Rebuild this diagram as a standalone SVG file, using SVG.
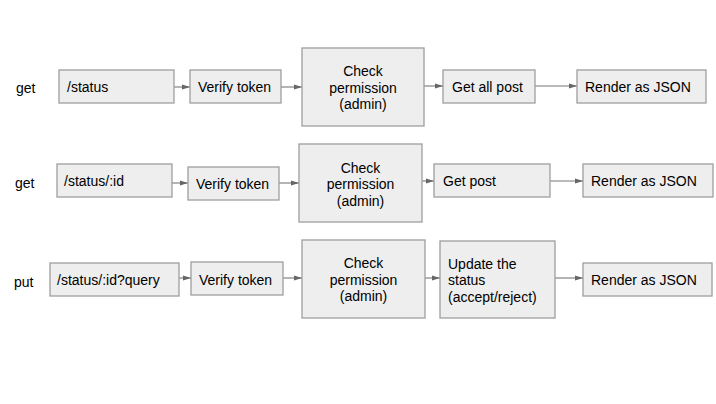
<svg xmlns="http://www.w3.org/2000/svg" width="716" height="404" viewBox="0 0 716 404">
<defs>
<style>
.bx{fill:#eeeeee;stroke:#9e9e9e;stroke-width:1.3}
text{font-family:"Liberation Sans",Arial,sans-serif;font-size:14px;fill:#000}
.c{text-anchor:middle}
.ln{stroke:#777;stroke-width:1.1;fill:none}
</style>
<marker id="ah" markerWidth="8" markerHeight="6" refX="8" refY="3" orient="auto" markerUnits="userSpaceOnUse">
<path d="M0,0.5 L8,3 L0,5.5 Z" fill="#666"/>
</marker>
</defs>
<rect width="716" height="404" fill="#fff"/>
<g id="labels">
<text x="16" y="93">get</text>
<text x="15" y="188">get</text>
<text x="14" y="287">put</text>
</g>
<g id="connectors">
<path class="ln" marker-end="url(#ah)" d="M174,87 H190"/>
<path class="ln" marker-end="url(#ah)" d="M281,87 H302"/>
<path class="ln" marker-end="url(#ah)" d="M424,86 H443"/>
<path class="ln" marker-end="url(#ah)" d="M535,86 H577"/>
<path class="ln" marker-end="url(#ah)" d="M172,183 H188"/>
<path class="ln" marker-end="url(#ah)" d="M279,183 H299"/>
<path class="ln" marker-end="url(#ah)" d="M422,181 H434"/>
<path class="ln" marker-end="url(#ah)" d="M550,181 H583"/>
<path class="ln" marker-end="url(#ah)" d="M179,278 H191"/>
<path class="ln" marker-end="url(#ah)" d="M283,278 H302"/>
<path class="ln" marker-end="url(#ah)" d="M425,278 H440"/>
<path class="ln" marker-end="url(#ah)" d="M555,278 H583"/>
</g>
<g id="r1-route"><rect class="bx" x="59" y="70" width="115" height="33"/><text x="67" y="92">/status</text></g>
<g id="r1-verify"><rect class="bx" x="190" y="70" width="91" height="33"/><text x="198" y="92">Verify token</text></g>
<g id="r1-check"><rect class="bx" x="302" y="48" width="122" height="78"/><text class="c" x="363" y="76">Check</text><text class="c" x="363" y="92.5">permission</text><text class="c" x="363" y="109">(admin)</text></g>
<g id="r1-get"><rect class="bx" x="443" y="70" width="92" height="33"/><text x="452" y="92">Get all post</text></g>
<g id="r1-render"><rect class="bx" x="577" y="70" width="129" height="33"/><text x="585" y="92">Render as JSON</text></g>

<g id="r2-route"><rect class="bx" x="57" y="164" width="115" height="33"/><text x="64" y="185.5">/status/:id</text></g>
<g id="r2-verify"><rect class="bx" x="188" y="167" width="91" height="33"/><text x="196" y="189">Verify token</text></g>
<g id="r2-check"><rect class="bx" x="299" y="144" width="123" height="78"/><text class="c" x="360.5" y="172.5">Check</text><text class="c" x="360.5" y="189">permission</text><text class="c" x="360.5" y="205.5">(admin)</text></g>
<g id="r2-get"><rect class="bx" x="434" y="164" width="116" height="33"/><text x="443" y="185.5">Get post</text></g>
<g id="r2-render"><rect class="bx" x="583" y="164" width="130" height="33"/><text x="591" y="185.5">Render as JSON</text></g>

<g id="r3-route"><rect class="bx" x="50" y="263" width="129" height="33"/><text x="57" y="285">/status/:id?query</text></g>
<g id="r3-verify"><rect class="bx" x="191" y="262" width="92" height="33"/><text x="199" y="284.5">Verify token</text></g>
<g id="r3-check"><rect class="bx" x="302" y="240" width="123" height="78"/><text class="c" x="363.5" y="268">Check</text><text class="c" x="363.5" y="284.5">permission</text><text class="c" x="363.5" y="301">(admin)</text></g>
<g id="r3-update"><rect class="bx" x="440" y="241" width="115" height="77"/><text x="448" y="268.5">Update the</text><text x="448" y="285">status</text><text x="448" y="301.5">(accept/reject)</text></g>
<g id="r3-render"><rect class="bx" x="583" y="263" width="129" height="33"/><text x="591" y="285">Render as JSON</text></g>
</svg>
